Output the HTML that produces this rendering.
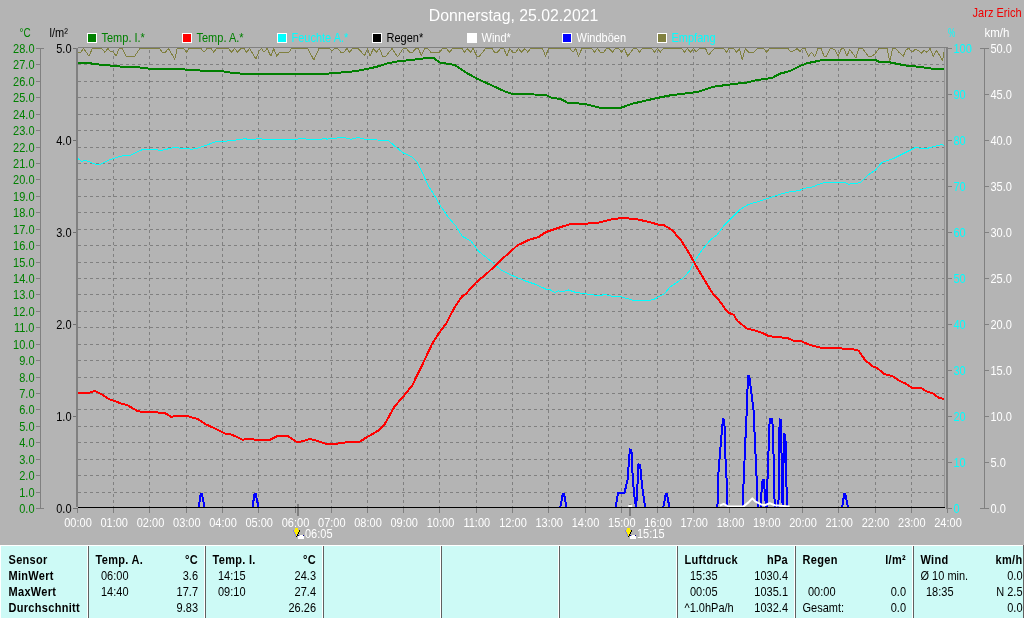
<!DOCTYPE html>
<html lang="de"><head><meta charset="utf-8"><title>Donnerstag, 25.02.2021</title>
<style>
html,body{margin:0;padding:0;background:#b4b4b4;}
body{width:1024px;height:618px;overflow:hidden;position:relative;font-family:"Liberation Sans",Arial,sans-serif;}
svg{position:absolute;left:0;top:0;display:block}
svg text{font-family:"Liberation Sans",Arial,sans-serif;font-size:11px;}
.b{font-weight:bold;letter-spacing:0.35px}
.g{fill:#008000}.c{fill:#00ffff}.w{fill:#ffffff}.k{fill:#000000}.r{fill:#f00000}
.e{text-anchor:end}.m{text-anchor:middle}
</style></head><body>
<svg width="1024" height="618" viewBox="0 0 1024 618">
<rect x="0" y="0" width="1024" height="618" fill="#b4b4b4"/>
<g stroke="#808080" stroke-width="1" stroke-dasharray="3 3" shape-rendering="crispEdges" fill="none">
<line x1="78" y1="492.5" x2="944" y2="492.5"/>
<line x1="78" y1="475.5" x2="944" y2="475.5"/>
<line x1="78" y1="459.5" x2="944" y2="459.5"/>
<line x1="78" y1="442.5" x2="944" y2="442.5"/>
<line x1="78" y1="426.5" x2="944" y2="426.5"/>
<line x1="78" y1="409.5" x2="944" y2="409.5"/>
<line x1="78" y1="393.5" x2="944" y2="393.5"/>
<line x1="78" y1="377.5" x2="944" y2="377.5"/>
<line x1="78" y1="360.5" x2="944" y2="360.5"/>
<line x1="78" y1="344.5" x2="944" y2="344.5"/>
<line x1="78" y1="327.5" x2="944" y2="327.5"/>
<line x1="78" y1="311.5" x2="944" y2="311.5"/>
<line x1="78" y1="294.5" x2="944" y2="294.5"/>
<line x1="78" y1="278.5" x2="944" y2="278.5"/>
<line x1="78" y1="262.5" x2="944" y2="262.5"/>
<line x1="78" y1="245.5" x2="944" y2="245.5"/>
<line x1="78" y1="229.5" x2="944" y2="229.5"/>
<line x1="78" y1="212.5" x2="944" y2="212.5"/>
<line x1="78" y1="196.5" x2="944" y2="196.5"/>
<line x1="78" y1="179.5" x2="944" y2="179.5"/>
<line x1="78" y1="163.5" x2="944" y2="163.5"/>
<line x1="78" y1="147.5" x2="944" y2="147.5"/>
<line x1="78" y1="130.5" x2="944" y2="130.5"/>
<line x1="78" y1="114.5" x2="944" y2="114.5"/>
<line x1="78" y1="97.5" x2="944" y2="97.5"/>
<line x1="78" y1="81.5" x2="944" y2="81.5"/>
<line x1="78" y1="64.5" x2="944" y2="64.5"/>
<line x1="113.5" y1="50" x2="113.5" y2="507"/>
<line x1="113.5" y1="508" x2="113.5" y2="513" stroke-dasharray="none"/>
<line x1="149.5" y1="50" x2="149.5" y2="507"/>
<line x1="149.5" y1="508" x2="149.5" y2="513" stroke-dasharray="none"/>
<line x1="186.5" y1="50" x2="186.5" y2="507"/>
<line x1="186.5" y1="508" x2="186.5" y2="513" stroke-dasharray="none"/>
<line x1="222.5" y1="50" x2="222.5" y2="507"/>
<line x1="222.5" y1="508" x2="222.5" y2="513" stroke-dasharray="none"/>
<line x1="258.5" y1="50" x2="258.5" y2="507"/>
<line x1="258.5" y1="508" x2="258.5" y2="513" stroke-dasharray="none"/>
<line x1="295.5" y1="50" x2="295.5" y2="507"/>
<line x1="295.5" y1="508" x2="295.5" y2="513" stroke-dasharray="none"/>
<line x1="331.5" y1="50" x2="331.5" y2="507"/>
<line x1="331.5" y1="508" x2="331.5" y2="513" stroke-dasharray="none"/>
<line x1="367.5" y1="50" x2="367.5" y2="507"/>
<line x1="367.5" y1="508" x2="367.5" y2="513" stroke-dasharray="none"/>
<line x1="403.5" y1="50" x2="403.5" y2="507"/>
<line x1="403.5" y1="508" x2="403.5" y2="513" stroke-dasharray="none"/>
<line x1="439.5" y1="50" x2="439.5" y2="507"/>
<line x1="439.5" y1="508" x2="439.5" y2="513" stroke-dasharray="none"/>
<line x1="476.5" y1="50" x2="476.5" y2="507"/>
<line x1="476.5" y1="508" x2="476.5" y2="513" stroke-dasharray="none"/>
<line x1="512.5" y1="50" x2="512.5" y2="507"/>
<line x1="512.5" y1="508" x2="512.5" y2="513" stroke-dasharray="none"/>
<line x1="548.5" y1="50" x2="548.5" y2="507"/>
<line x1="548.5" y1="508" x2="548.5" y2="513" stroke-dasharray="none"/>
<line x1="585.5" y1="50" x2="585.5" y2="507"/>
<line x1="585.5" y1="508" x2="585.5" y2="513" stroke-dasharray="none"/>
<line x1="621.5" y1="50" x2="621.5" y2="507"/>
<line x1="621.5" y1="508" x2="621.5" y2="513" stroke-dasharray="none"/>
<line x1="657.5" y1="50" x2="657.5" y2="507"/>
<line x1="657.5" y1="508" x2="657.5" y2="513" stroke-dasharray="none"/>
<line x1="693.5" y1="50" x2="693.5" y2="507"/>
<line x1="693.5" y1="508" x2="693.5" y2="513" stroke-dasharray="none"/>
<line x1="729.5" y1="50" x2="729.5" y2="507"/>
<line x1="729.5" y1="508" x2="729.5" y2="513" stroke-dasharray="none"/>
<line x1="766.5" y1="50" x2="766.5" y2="507"/>
<line x1="766.5" y1="508" x2="766.5" y2="513" stroke-dasharray="none"/>
<line x1="802.5" y1="50" x2="802.5" y2="507"/>
<line x1="802.5" y1="508" x2="802.5" y2="513" stroke-dasharray="none"/>
<line x1="838.5" y1="50" x2="838.5" y2="507"/>
<line x1="838.5" y1="508" x2="838.5" y2="513" stroke-dasharray="none"/>
<line x1="875.5" y1="50" x2="875.5" y2="507"/>
<line x1="875.5" y1="508" x2="875.5" y2="513" stroke-dasharray="none"/>
<line x1="911.5" y1="50" x2="911.5" y2="507"/>
<line x1="911.5" y1="508" x2="911.5" y2="513" stroke-dasharray="none"/>
</g>
<g shape-rendering="crispEdges">
<rect x="297" y="504" width="2" height="12" fill="#808080"/>
<rect x="629" y="504" width="2" height="12" fill="#808080"/>
</g>
<polyline points="77.9,52.2 80.4,52.8 83.5,48.5 89.1,56.2 92.2,48.5 101.6,48.5 104.8,52.2 107.9,48.5 110.4,51.5 113.5,52.2 116.0,56.2 119.1,48.5 122.2,48.5 126.0,56.2 134.8,56.2 139.8,48.5 159.8,48.5 162.2,52.2 165.4,52.2 168.5,48.5 174.8,59.4 177.2,48.5 183.5,48.5 186.6,52.2 189.1,48.5 201.0,48.5 204.0,52.2 207.1,48.5 210.9,48.5 213.8,52.2 216.5,48.5 228.4,48.5 231.5,52.2 234.6,48.5 237.5,52.2 240.9,48.5 244.0,48.5 246.5,52.2 249.6,48.5 255.9,59.0 259.0,51.2 261.5,48.5 264.0,52.2 267.1,48.5 270.9,56.2 273.8,48.5 276.8,56.2 279.6,52.2 289.0,52.2 291.5,48.5 307.8,48.5 313.8,60.0 319.0,48.5 329.0,48.5 332.0,50.6 334.5,48.5 337.6,48.5 340.8,52.2 343.9,52.2 347.0,48.5 349.5,52.2 352.6,48.5 358.2,48.5 364.5,55.6 367.6,48.5 370.1,56.2 373.2,48.5 376.4,52.2 379.5,48.5 382.6,56.2 385.8,56.2 392.0,48.5 397.6,56.9 403.2,48.5 406.4,48.5 409.5,52.2 412.6,52.2 415.8,48.5 418.2,48.5 421.4,55.6 424.5,48.5 427.6,48.5 430.8,52.2 439.5,52.2 442.6,48.5 446.4,48.5 449.5,52.2 452.6,48.5 459.5,48.5 461.9,48.5 464.4,52.2 467.2,48.5 470.6,52.2 473.1,48.5 476.9,56.2 479.4,56.2 485.6,48.5 491.9,48.5 494.4,52.2 497.5,52.2 500.6,48.5 503.8,48.5 506.9,56.2 509.8,48.5 512.5,52.2 515.6,52.2 518.5,48.5 521.5,52.2 524.8,48.5 527.8,52.2 530.6,48.5 542.5,48.5 545.6,56.2 548.5,48.5 570.0,48.5 573.1,52.2 575.6,48.5 578.5,56.2 581.9,48.5 587.5,48.5 591.8,48.5 594.5,52.2 597.4,48.5 600.2,52.2 603.6,52.2 606.5,48.5 609.2,48.5 612.4,52.2 615.2,48.5 618.6,48.5 621.5,52.2 624.2,48.5 627.8,56.2 633.6,48.5 636.8,48.5 639.5,52.2 642.4,48.5 651.8,48.5 654.5,52.2 657.4,48.5 660.2,52.2 663.2,48.5 681.8,48.5 684.5,52.2 687.4,48.5 690.5,52.2 693.6,48.5 696.1,52.2 699.2,48.5 705.5,48.5 708.6,55.0 714.2,48.5 723.5,48.5 726.6,52.2 729.1,48.5 733.5,48.5 736.6,52.2 739.5,48.5 742.2,59.4 745.4,48.5 748.5,52.2 754.1,52.2 757.2,48.5 763.5,48.5 766.6,52.2 769.5,48.5 787.9,48.5 791.0,52.2 794.1,50.6 797.2,48.5 800.0,51.5 802.2,48.5 805.0,48.5 808.5,56.2 811.6,52.2 814.8,56.9 817.9,48.5 821.0,48.5 824.1,56.2 826.6,56.2 830.4,48.5 832.0,48.5 834.5,49.4 838.2,56.2 841.4,48.5 843.9,48.5 847.0,56.2 849.5,49.4 852.6,53.1 855.8,58.1 858.9,48.5 862.6,48.5 868.2,56.2 872.0,56.2 875.1,53.8 878.9,48.5 883.9,48.5 887.0,48.5 889.8,61.2 892.6,48.5 895.8,48.5 898.9,52.2 903.2,56.2 906.4,49.4 908.9,48.5 912.0,52.2 915.1,49.4 918.2,50.6 921.4,53.1 923.9,50.6 927.0,52.2 930.1,48.5 933.2,56.2 936.4,50.6 940.1,56.2 942.6,60.6 944.5,48.5" fill="none" stroke="#808040" stroke-width="1" stroke-linejoin="round" shape-rendering="crispEdges"/>
<polyline points="77.5,63.0 88.8,63.0 95.0,64.2 107.5,65.2 120.0,66.5 140.0,67.5 150.0,68.8 180.0,69.2 200.0,70.5 222.5,71.2 230.0,72.5 242.5,73.8 326.0,73.8 341.0,72.5 356.0,71.2 376.0,67.0 386.0,63.8 398.5,61.2 411.0,60.0 423.5,58.5 433.5,58.0 439.8,62.5 454.8,65.0 466.0,72.5 476.0,78.2 491.0,85.0 506.0,92.0 511.0,93.5 546.0,95.0 551.0,97.5 561.0,99.2 567.2,102.5 582.0,103.8 587.0,104.5 593.2,106.2 600.8,107.8 620.8,107.8 632.0,103.8 657.0,98.0 669.5,95.5 698.2,91.8 713.2,86.8 732.0,84.2 747.0,82.5 757.0,80.0 772.0,78.0 779.5,73.8 789.5,71.2 799.5,66.2 807.0,63.2 817.0,61.2 822.0,60.0 838.0,60.0 875.5,60.0 879.2,62.0 890.5,62.5 905.5,65.5 920.5,67.0 933.0,68.8 944.5,69.0" fill="none" stroke="#008000" stroke-width="2" stroke-linejoin="round" shape-rendering="crispEdges"/>
<polyline points="77.5,158.0 81.2,161.2 86.2,160.5 92.5,163.2 98.8,165.0 103.8,162.5 110.0,159.5 122.5,155.8 131.2,155.0 142.5,149.5 156.2,149.2 160.0,150.8 173.8,147.5 192.5,149.2 200.0,147.5 215.0,142.0 230.0,140.8 245.0,138.8 250.0,139.5 258.8,138.8 270.0,139.5 295.0,140.0 300.0,138.5 317.5,140.0 326.0,138.2 326.0,139.2 336.0,138.2 342.2,137.0 351.0,139.2 358.5,137.5 366.0,139.5 388.5,140.5 394.8,146.2 403.5,153.0 412.2,157.0 417.2,162.5 423.5,175.0 428.5,186.2 433.5,193.8 439.8,205.0 448.5,217.5 456.0,226.2 462.2,236.2 471.0,241.2 478.5,251.2 491.0,261.2 501.0,270.0 512.2,275.5 526.0,281.2 536.0,284.5 546.0,289.2 549.8,289.5 554.8,292.5 558.5,290.8 561.0,292.0 568.5,290.0 576.0,292.5 582.0,293.2 599.5,295.8 604.5,294.5 612.0,296.2 619.5,296.2 632.0,300.0 648.2,301.0 654.5,299.0 664.5,293.8 669.5,287.5 682.0,278.8 689.5,271.2 694.5,261.2 702.0,250.0 710.8,239.5 717.0,235.0 724.5,225.0 732.0,217.5 739.5,210.0 748.2,204.5 757.0,202.0 767.0,198.8 782.0,193.8 789.5,191.8 799.5,190.5 804.5,188.2 812.0,187.0 822.0,183.2 829.5,182.2 838.0,182.2 845.5,182.5 848.0,184.2 853.0,183.8 860.5,182.5 868.0,175.0 875.5,170.0 881.8,162.5 893.0,158.8 905.5,152.5 915.5,147.5 925.5,148.8 933.0,146.8 941.8,144.5 943.8,145.5" fill="none" stroke="#00ffff" stroke-width="1" stroke-linejoin="round" shape-rendering="crispEdges"/>
<polyline points="77.5,393.0 88.8,392.8 95.0,391.0 102.5,394.8 108.8,399.0 116.2,401.5 120.0,403.2 127.5,405.2 137.5,411.0 142.5,412.0 155.0,411.5 160.0,413.2 165.0,413.2 171.2,416.8 177.5,415.8 186.2,415.8 197.5,419.0 206.2,424.5 215.0,428.5 225.0,433.5 230.0,434.0 237.5,437.2 242.5,439.8 250.0,438.5 255.0,439.8 270.0,439.8 277.5,436.0 287.5,435.8 296.2,441.5 301.2,441.5 310.0,439.0 317.5,441.0 326.0,443.8 338.5,443.5 348.5,442.0 358.5,442.5 367.2,437.0 378.5,430.5 384.8,423.8 394.8,406.2 403.5,396.2 412.2,385.5 422.2,365.0 432.2,343.8 438.5,333.8 446.0,323.8 454.8,307.0 462.2,296.2 466.0,293.8 476.0,282.5 488.5,272.0 501.0,260.0 511.0,251.2 517.2,245.5 528.5,240.0 538.5,237.0 546.0,232.0 561.0,227.0 571.0,224.0 582.0,224.0 599.5,222.5 612.0,219.2 622.0,218.0 635.8,219.0 647.0,221.5 658.2,224.5 664.5,225.5 672.0,230.0 680.8,240.0 689.5,253.8 697.0,267.5 704.5,280.0 712.0,292.5 718.8,300.0 727.5,312.0 733.8,315.0 737.5,321.2 747.5,328.8 753.8,330.0 762.5,333.0 768.8,336.2 787.5,338.0 793.8,340.8 801.2,341.2 810.0,345.0 820.0,347.5 852.5,349.0 858.8,350.8 865.0,360.0 872.5,366.2 877.5,368.2 883.8,373.8 892.5,376.2 900.0,381.2 906.2,383.8 911.2,387.5 921.2,388.0 926.2,391.2 933.8,393.8 938.8,398.0 943.8,398.8" fill="none" stroke="#ff0000" stroke-width="2" stroke-linejoin="round" shape-rendering="crispEdges"/>
<polyline points="198.8,507.0 200.8,493.5 201.8,493.5 204.5,507.0" fill="none" stroke="#0000ff" stroke-width="2" stroke-linejoin="round" shape-rendering="crispEdges"/>
<polyline points="252.5,507.0 254.6,493.5 255.6,493.5 258.5,507.0" fill="none" stroke="#0000ff" stroke-width="2" stroke-linejoin="round" shape-rendering="crispEdges"/>
<polyline points="560.3,507.0 562.9,493.5 564.0,493.5 566.4,507.0" fill="none" stroke="#0000ff" stroke-width="2" stroke-linejoin="round" shape-rendering="crispEdges"/>
<polyline points="615.7,507.0 618.0,493.3 624.5,493.0 627.6,479.3 629.9,449.4 631.4,449.8 632.9,480.9 634.4,496.0 636.0,507.0 637.0,494.5 638.5,464.4 640.1,464.9 642.0,485.4 645.1,507.0" fill="none" stroke="#0000ff" stroke-width="2" stroke-linejoin="round" shape-rendering="crispEdges"/>
<polyline points="663.3,507.0 665.9,493.5 666.8,493.5 669.4,507.0" fill="none" stroke="#0000ff" stroke-width="2" stroke-linejoin="round" shape-rendering="crispEdges"/>
<polyline points="717.4,507.0 718.6,469.6 721.1,439.7 722.9,419.3 724.4,419.8 724.9,447.0 726.6,479.5 727.4,507.0" fill="none" stroke="#0000ff" stroke-width="2" stroke-linejoin="round" shape-rendering="crispEdges"/>
<polyline points="742.8,507.0 743.5,484.5 745.3,442.0 746.8,409.8 748.0,375.4 749.3,376.2 751.0,389.9 753.5,409.8 755.2,447.0 756.7,479.5 757.7,507.0" fill="none" stroke="#0000ff" stroke-width="2" stroke-linejoin="round" shape-rendering="crispEdges"/>
<polyline points="760.5,507.0 761.7,489.5 762.7,479.5 764.0,479.5 764.7,492.0 766.0,507.0 766.7,507.0 767.7,472.0 768.7,447.0 769.7,419.3 772.2,418.8 773.2,434.7 773.7,464.6 774.7,507.0" fill="none" stroke="#0000ff" stroke-width="2" stroke-linejoin="round" shape-rendering="crispEdges"/>
<polyline points="778.4,507.0 779.1,464.6 779.6,419.3 781.1,419.8 781.6,459.6 782.6,507.0 783.6,459.6 784.1,434.2 785.4,434.7 786.1,472.0 787.1,507.0" fill="none" stroke="#0000ff" stroke-width="2" stroke-linejoin="round" shape-rendering="crispEdges"/>
<polyline points="842.2,507.0 844.3,493.5 845.3,493.5 848.0,507.0" fill="none" stroke="#0000ff" stroke-width="2" stroke-linejoin="round" shape-rendering="crispEdges"/>
<polyline points="628.3,506.0 632.2,506.0" fill="none" stroke="#ffffff" stroke-width="2" stroke-linejoin="round" />
<polyline points="719.9,505.7 723.6,503.9 727.4,506.2 737.3,506.4 743.5,506.4 748.5,502.4 752.3,498.4 755.2,501.4 761.0,504.4 764.7,505.2 769.7,503.2 774.7,505.2 789.6,506.4" fill="none" stroke="#ffffff" stroke-width="2" stroke-linejoin="round" />
<g shape-rendering="crispEdges">
<rect x="76" y="48" width="2" height="459" fill="#808080"/>
<rect x="78" y="47" width="870" height="1" fill="#808080"/>
<rect x="944" y="48" width="1" height="459" fill="#969696"/>
<rect x="946" y="47" width="2" height="462" fill="#808080"/>
<rect x="78" y="507" width="867" height="1" fill="#000"/>
<rect x="77" y="509" width="1" height="4" fill="#808080"/>
<rect x="947" y="508" width="1" height="5" fill="#808080"/>
<rect x="40" y="48" width="1" height="461" fill="#808080"/>
<rect x="36" y="508" width="8" height="1" fill="#808080"/>
<rect x="36" y="492" width="4" height="1" fill="#808080"/>
<rect x="36" y="475" width="4" height="1" fill="#808080"/>
<rect x="36" y="459" width="4" height="1" fill="#808080"/>
<rect x="36" y="442" width="4" height="1" fill="#808080"/>
<rect x="36" y="426" width="4" height="1" fill="#808080"/>
<rect x="36" y="409" width="4" height="1" fill="#808080"/>
<rect x="36" y="393" width="4" height="1" fill="#808080"/>
<rect x="36" y="377" width="4" height="1" fill="#808080"/>
<rect x="36" y="360" width="4" height="1" fill="#808080"/>
<rect x="36" y="344" width="4" height="1" fill="#808080"/>
<rect x="36" y="327" width="4" height="1" fill="#808080"/>
<rect x="36" y="311" width="4" height="1" fill="#808080"/>
<rect x="36" y="294" width="4" height="1" fill="#808080"/>
<rect x="36" y="278" width="4" height="1" fill="#808080"/>
<rect x="36" y="262" width="4" height="1" fill="#808080"/>
<rect x="36" y="245" width="4" height="1" fill="#808080"/>
<rect x="36" y="229" width="4" height="1" fill="#808080"/>
<rect x="36" y="212" width="4" height="1" fill="#808080"/>
<rect x="36" y="196" width="4" height="1" fill="#808080"/>
<rect x="36" y="179" width="4" height="1" fill="#808080"/>
<rect x="36" y="163" width="4" height="1" fill="#808080"/>
<rect x="36" y="147" width="4" height="1" fill="#808080"/>
<rect x="36" y="130" width="4" height="1" fill="#808080"/>
<rect x="36" y="114" width="4" height="1" fill="#808080"/>
<rect x="36" y="97" width="4" height="1" fill="#808080"/>
<rect x="36" y="81" width="4" height="1" fill="#808080"/>
<rect x="36" y="64" width="4" height="1" fill="#808080"/>
<rect x="36" y="48" width="8" height="1" fill="#808080"/>
<rect x="73" y="508" width="5" height="1" fill="#707070"/>
<rect x="73" y="416" width="3" height="1" fill="#707070"/>
<rect x="73" y="324" width="3" height="1" fill="#707070"/>
<rect x="73" y="232" width="3" height="1" fill="#707070"/>
<rect x="73" y="140" width="3" height="1" fill="#707070"/>
<rect x="73" y="48" width="3" height="1" fill="#707070"/>
<rect x="948" y="508" width="4" height="1" fill="#808080"/>
<rect x="948" y="462" width="4" height="1" fill="#808080"/>
<rect x="948" y="416" width="4" height="1" fill="#808080"/>
<rect x="948" y="370" width="4" height="1" fill="#808080"/>
<rect x="948" y="324" width="4" height="1" fill="#808080"/>
<rect x="948" y="278" width="4" height="1" fill="#808080"/>
<rect x="948" y="232" width="4" height="1" fill="#808080"/>
<rect x="948" y="186" width="4" height="1" fill="#808080"/>
<rect x="948" y="140" width="4" height="1" fill="#808080"/>
<rect x="948" y="94" width="4" height="1" fill="#808080"/>
<rect x="948" y="48" width="4" height="1" fill="#808080"/>
<rect x="984" y="48" width="1" height="461" fill="#808080"/>
<rect x="980" y="508" width="9" height="1" fill="#808080"/>
<rect x="985" y="462" width="4" height="1" fill="#808080"/>
<rect x="985" y="416" width="4" height="1" fill="#808080"/>
<rect x="985" y="370" width="4" height="1" fill="#808080"/>
<rect x="985" y="324" width="4" height="1" fill="#808080"/>
<rect x="985" y="278" width="4" height="1" fill="#808080"/>
<rect x="985" y="232" width="4" height="1" fill="#808080"/>
<rect x="985" y="186" width="4" height="1" fill="#808080"/>
<rect x="985" y="140" width="4" height="1" fill="#808080"/>
<rect x="985" y="94" width="4" height="1" fill="#808080"/>
<rect x="980" y="48" width="9" height="1" fill="#808080"/>
</g>
<text class="g e" transform="translate(34.5,513.0) scale(0.887,1)" style="font-size:12.4px">0.0</text>
<text class="g e" transform="translate(34.5,497.0) scale(0.887,1)" style="font-size:12.4px">1.0</text>
<text class="g e" transform="translate(34.5,480.0) scale(0.887,1)" style="font-size:12.4px">2.0</text>
<text class="g e" transform="translate(34.5,464.0) scale(0.887,1)" style="font-size:12.4px">3.0</text>
<text class="g e" transform="translate(34.5,447.0) scale(0.887,1)" style="font-size:12.4px">4.0</text>
<text class="g e" transform="translate(34.5,431.0) scale(0.887,1)" style="font-size:12.4px">5.0</text>
<text class="g e" transform="translate(34.5,414.0) scale(0.887,1)" style="font-size:12.4px">6.0</text>
<text class="g e" transform="translate(34.5,398.0) scale(0.887,1)" style="font-size:12.4px">7.0</text>
<text class="g e" transform="translate(34.5,382.0) scale(0.887,1)" style="font-size:12.4px">8.0</text>
<text class="g e" transform="translate(34.5,365.0) scale(0.887,1)" style="font-size:12.4px">9.0</text>
<text class="g e" transform="translate(34.5,349.0) scale(0.887,1)" style="font-size:12.4px">10.0</text>
<text class="g e" transform="translate(34.5,332.0) scale(0.887,1)" style="font-size:12.4px">11.0</text>
<text class="g e" transform="translate(34.5,316.0) scale(0.887,1)" style="font-size:12.4px">12.0</text>
<text class="g e" transform="translate(34.5,299.0) scale(0.887,1)" style="font-size:12.4px">13.0</text>
<text class="g e" transform="translate(34.5,283.0) scale(0.887,1)" style="font-size:12.4px">14.0</text>
<text class="g e" transform="translate(34.5,267.0) scale(0.887,1)" style="font-size:12.4px">15.0</text>
<text class="g e" transform="translate(34.5,250.0) scale(0.887,1)" style="font-size:12.4px">16.0</text>
<text class="g e" transform="translate(34.5,234.0) scale(0.887,1)" style="font-size:12.4px">17.0</text>
<text class="g e" transform="translate(34.5,217.0) scale(0.887,1)" style="font-size:12.4px">18.0</text>
<text class="g e" transform="translate(34.5,201.0) scale(0.887,1)" style="font-size:12.4px">19.0</text>
<text class="g e" transform="translate(34.5,184.0) scale(0.887,1)" style="font-size:12.4px">20.0</text>
<text class="g e" transform="translate(34.5,168.0) scale(0.887,1)" style="font-size:12.4px">21.0</text>
<text class="g e" transform="translate(34.5,152.0) scale(0.887,1)" style="font-size:12.4px">22.0</text>
<text class="g e" transform="translate(34.5,135.0) scale(0.887,1)" style="font-size:12.4px">23.0</text>
<text class="g e" transform="translate(34.5,119.0) scale(0.887,1)" style="font-size:12.4px">24.0</text>
<text class="g e" transform="translate(34.5,102.0) scale(0.887,1)" style="font-size:12.4px">25.0</text>
<text class="g e" transform="translate(34.5,86.0) scale(0.887,1)" style="font-size:12.4px">26.0</text>
<text class="g e" transform="translate(34.5,69.0) scale(0.887,1)" style="font-size:12.4px">27.0</text>
<text class="g e" transform="translate(34.5,53.0) scale(0.887,1)" style="font-size:12.4px">28.0</text>
<text class="k e" transform="translate(71.5,513.0) scale(0.887,1)" style="font-size:12.4px">0.0</text>
<text class="k e" transform="translate(71.5,421.0) scale(0.887,1)" style="font-size:12.4px">1.0</text>
<text class="k e" transform="translate(71.5,329.0) scale(0.887,1)" style="font-size:12.4px">2.0</text>
<text class="k e" transform="translate(71.5,237.0) scale(0.887,1)" style="font-size:12.4px">3.0</text>
<text class="k e" transform="translate(71.5,145.0) scale(0.887,1)" style="font-size:12.4px">4.0</text>
<text class="k e" transform="translate(71.5,53.0) scale(0.887,1)" style="font-size:12.4px">5.0</text>
<text class="c" transform="translate(953.5,513.0) scale(0.887,1)" style="font-size:12.4px">0</text>
<text class="w" transform="translate(990.5,513.0) scale(0.887,1)" style="font-size:12.4px">0.0</text>
<text class="c" transform="translate(953.5,467.0) scale(0.887,1)" style="font-size:12.4px">10</text>
<text class="w" transform="translate(990.5,467.0) scale(0.887,1)" style="font-size:12.4px">5.0</text>
<text class="c" transform="translate(953.5,421.0) scale(0.887,1)" style="font-size:12.4px">20</text>
<text class="w" transform="translate(990.5,421.0) scale(0.887,1)" style="font-size:12.4px">10.0</text>
<text class="c" transform="translate(953.5,375.0) scale(0.887,1)" style="font-size:12.4px">30</text>
<text class="w" transform="translate(990.5,375.0) scale(0.887,1)" style="font-size:12.4px">15.0</text>
<text class="c" transform="translate(953.5,329.0) scale(0.887,1)" style="font-size:12.4px">40</text>
<text class="w" transform="translate(990.5,329.0) scale(0.887,1)" style="font-size:12.4px">20.0</text>
<text class="c" transform="translate(953.5,283.0) scale(0.887,1)" style="font-size:12.4px">50</text>
<text class="w" transform="translate(990.5,283.0) scale(0.887,1)" style="font-size:12.4px">25.0</text>
<text class="c" transform="translate(953.5,237.0) scale(0.887,1)" style="font-size:12.4px">60</text>
<text class="w" transform="translate(990.5,237.0) scale(0.887,1)" style="font-size:12.4px">30.0</text>
<text class="c" transform="translate(953.5,191.0) scale(0.887,1)" style="font-size:12.4px">70</text>
<text class="w" transform="translate(990.5,191.0) scale(0.887,1)" style="font-size:12.4px">35.0</text>
<text class="c" transform="translate(953.5,145.0) scale(0.887,1)" style="font-size:12.4px">80</text>
<text class="w" transform="translate(990.5,145.0) scale(0.887,1)" style="font-size:12.4px">40.0</text>
<text class="c" transform="translate(953.5,99.0) scale(0.887,1)" style="font-size:12.4px">90</text>
<text class="w" transform="translate(990.5,99.0) scale(0.887,1)" style="font-size:12.4px">45.0</text>
<text class="c" transform="translate(953.5,53.0) scale(0.887,1)" style="font-size:12.4px">100</text>
<text class="w" transform="translate(990.5,53.0) scale(0.887,1)" style="font-size:12.4px">50.0</text>
<text class="g" transform="translate(19.5,37.0) scale(0.800,1)" style="font-size:12.4px">°C</text>
<text class="k" transform="translate(49.5,37.0) scale(0.887,1)" style="font-size:12.4px">l/m²</text>
<text class="c" transform="translate(948.0,37.0) scale(0.660,1)" style="font-size:12.4px">%</text>
<text class="w" transform="translate(984.5,37.0) scale(0.930,1)" style="font-size:12.4px">km/h</text>
<text class="r e" transform="translate(1021.5,17.0) scale(0.887,1)" style="font-size:12.4px">Jarz Erich</text>
<text class="w m" transform="translate(513.5,21.0) scale(1.000,1)" style="font-size:15.8px">Donnerstag, 25.02.2021</text>
<text class="w m" transform="translate(78.0,527.0) scale(0.887,1)" style="font-size:12.4px">00:00</text>
<text class="w m" transform="translate(114.2,527.0) scale(0.887,1)" style="font-size:12.4px">01:00</text>
<text class="w m" transform="translate(150.5,527.0) scale(0.887,1)" style="font-size:12.4px">02:00</text>
<text class="w m" transform="translate(186.8,527.0) scale(0.887,1)" style="font-size:12.4px">03:00</text>
<text class="w m" transform="translate(223.0,527.0) scale(0.887,1)" style="font-size:12.4px">04:00</text>
<text class="w m" transform="translate(259.2,527.0) scale(0.887,1)" style="font-size:12.4px">05:00</text>
<text class="w m" transform="translate(295.5,527.0) scale(0.887,1)" style="font-size:12.4px">06:00</text>
<text class="w m" transform="translate(331.8,527.0) scale(0.887,1)" style="font-size:12.4px">07:00</text>
<text class="w m" transform="translate(368.0,527.0) scale(0.887,1)" style="font-size:12.4px">08:00</text>
<text class="w m" transform="translate(404.2,527.0) scale(0.887,1)" style="font-size:12.4px">09:00</text>
<text class="w m" transform="translate(440.5,527.0) scale(0.887,1)" style="font-size:12.4px">10:00</text>
<text class="w m" transform="translate(476.8,527.0) scale(0.887,1)" style="font-size:12.4px">11:00</text>
<text class="w m" transform="translate(513.0,527.0) scale(0.887,1)" style="font-size:12.4px">12:00</text>
<text class="w m" transform="translate(549.2,527.0) scale(0.887,1)" style="font-size:12.4px">13:00</text>
<text class="w m" transform="translate(585.5,527.0) scale(0.887,1)" style="font-size:12.4px">14:00</text>
<text class="w m" transform="translate(621.8,527.0) scale(0.887,1)" style="font-size:12.4px">15:00</text>
<text class="w m" transform="translate(658.0,527.0) scale(0.887,1)" style="font-size:12.4px">16:00</text>
<text class="w m" transform="translate(694.2,527.0) scale(0.887,1)" style="font-size:12.4px">17:00</text>
<text class="w m" transform="translate(730.5,527.0) scale(0.887,1)" style="font-size:12.4px">18:00</text>
<text class="w m" transform="translate(766.8,527.0) scale(0.887,1)" style="font-size:12.4px">19:00</text>
<text class="w m" transform="translate(803.0,527.0) scale(0.887,1)" style="font-size:12.4px">20:00</text>
<text class="w m" transform="translate(839.2,527.0) scale(0.887,1)" style="font-size:12.4px">21:00</text>
<text class="w m" transform="translate(875.5,527.0) scale(0.887,1)" style="font-size:12.4px">22:00</text>
<text class="w m" transform="translate(911.8,527.0) scale(0.887,1)" style="font-size:12.4px">23:00</text>
<text class="w m" transform="translate(948.0,527.0) scale(0.887,1)" style="font-size:12.4px">24:00</text>
<text class="w" transform="translate(305.0,538.0) scale(0.887,1)" style="font-size:12.4px">06:05</text>
<text class="w" transform="translate(637.0,538.0) scale(0.887,1)" style="font-size:12.4px">15:15</text>
<g transform="translate(293,528)" shape-rendering="crispEdges">
<rect x="2" y="0" width="3" height="2" fill="#ffee00"/>
<rect x="1" y="2" width="5" height="2" fill="#ffee00"/>
<rect x="2" y="4" width="3" height="2" fill="#ffee00"/>
<rect x="3" y="6" width="1" height="2" fill="#ffee00"/>
<rect x="6" y="2" width="1" height="2" fill="#000"/>
<rect x="5" y="4" width="1" height="2" fill="#000"/>
<rect x="4" y="6" width="1" height="2" fill="#000"/>
<rect x="3" y="8" width="1" height="1" fill="#000"/>
<rect x="0" y="2" width="1" height="2" fill="#8080e0"/>
<rect x="1" y="4" width="1" height="2" fill="#8080e0"/>
<rect x="2" y="6" width="1" height="2" fill="#8080e0"/>
<rect x="5" y="7" width="1" height="1" fill="#000090"/>
<rect x="10" y="7" width="1" height="1" fill="#000090"/>
<rect x="7" y="7" width="3" height="1" fill="#fff"/>
<rect x="5" y="8" width="6" height="3" fill="#fff"/>
</g>
<g transform="translate(625,528)" shape-rendering="crispEdges">
<rect x="2" y="0" width="3" height="2" fill="#ffee00"/>
<rect x="1" y="2" width="5" height="2" fill="#ffee00"/>
<rect x="2" y="4" width="3" height="2" fill="#ffee00"/>
<rect x="3" y="6" width="1" height="2" fill="#ffee00"/>
<rect x="6" y="2" width="1" height="2" fill="#000"/>
<rect x="5" y="4" width="1" height="2" fill="#000"/>
<rect x="4" y="6" width="1" height="2" fill="#000"/>
<rect x="3" y="8" width="1" height="1" fill="#000"/>
<rect x="0" y="2" width="1" height="2" fill="#8080e0"/>
<rect x="1" y="4" width="1" height="2" fill="#8080e0"/>
<rect x="2" y="6" width="1" height="2" fill="#8080e0"/>
<rect x="5" y="7" width="1" height="1" fill="#000090"/>
<rect x="10" y="7" width="1" height="1" fill="#000090"/>
<rect x="7" y="7" width="3" height="1" fill="#fff"/>
<rect x="5" y="8" width="6" height="3" fill="#fff"/>
</g>
<rect x="87" y="33" width="10" height="10" fill="#fff" shape-rendering="crispEdges"/>
<rect x="88" y="34" width="8" height="8" fill="#008000" shape-rendering="crispEdges"/>
<text class="g" transform="translate(101.5,42.0) scale(0.887,1)" style="font-size:12.4px">Temp. I.*</text>
<rect x="182" y="33" width="10" height="10" fill="#fff" shape-rendering="crispEdges"/>
<rect x="183" y="34" width="8" height="8" fill="#ff0000" shape-rendering="crispEdges"/>
<text class="g" transform="translate(196.5,42.0) scale(0.887,1)" style="font-size:12.4px">Temp. A.*</text>
<rect x="277" y="33" width="10" height="10" fill="#fff" shape-rendering="crispEdges"/>
<rect x="278" y="34" width="8" height="8" fill="#00ffff" shape-rendering="crispEdges"/>
<text class="c" transform="translate(291.5,42.0) scale(0.887,1)" style="font-size:12.4px">Feuchte A.*</text>
<rect x="372" y="33" width="10" height="10" fill="#fff" shape-rendering="crispEdges"/>
<rect x="373" y="34" width="8" height="8" fill="#000000" shape-rendering="crispEdges"/>
<text class="k" transform="translate(386.5,42.0) scale(0.887,1)" style="font-size:12.4px">Regen*</text>
<rect x="467" y="33" width="10" height="10" fill="#fff" shape-rendering="crispEdges"/>
<rect x="468" y="34" width="8" height="8" fill="#ffffff" shape-rendering="crispEdges"/>
<text class="w" transform="translate(481.5,42.0) scale(0.887,1)" style="font-size:12.4px">Wind*</text>
<rect x="562" y="33" width="10" height="10" fill="#fff" shape-rendering="crispEdges"/>
<rect x="563" y="34" width="8" height="8" fill="#0000ff" shape-rendering="crispEdges"/>
<text class="w" transform="translate(576.5,42.0) scale(0.887,1)" style="font-size:12.4px">Windböen</text>
<rect x="657" y="33" width="10" height="10" fill="#fff" shape-rendering="crispEdges"/>
<rect x="658" y="34" width="8" height="8" fill="#808040" shape-rendering="crispEdges"/>
<text class="c" transform="translate(671.5,42.0) scale(0.887,1)" style="font-size:12.4px">Empfang</text>
<g shape-rendering="crispEdges">
<rect x="0" y="546" width="1024" height="72" fill="#cdfaf6"/>
<rect x="0" y="545" width="1024" height="1" fill="#fff"/>
<rect x="0" y="545" width="1" height="73" fill="#fff"/>
<rect x="1023" y="545" width="1" height="73" fill="#606060"/>
<rect x="88" y="546" width="1" height="72" fill="#606060"/>
<rect x="87" y="546" width="1" height="72" fill="#fff"/>
<rect x="205" y="546" width="1" height="72" fill="#606060"/>
<rect x="204" y="546" width="1" height="72" fill="#fff"/>
<rect x="323" y="546" width="1" height="72" fill="#606060"/>
<rect x="322" y="546" width="1" height="72" fill="#fff"/>
<rect x="441" y="546" width="1" height="72" fill="#606060"/>
<rect x="440" y="546" width="1" height="72" fill="#fff"/>
<rect x="559" y="546" width="1" height="72" fill="#606060"/>
<rect x="558" y="546" width="1" height="72" fill="#fff"/>
<rect x="677" y="546" width="1" height="72" fill="#606060"/>
<rect x="676" y="546" width="1" height="72" fill="#fff"/>
<rect x="795" y="546" width="1" height="72" fill="#606060"/>
<rect x="794" y="546" width="1" height="72" fill="#fff"/>
<rect x="913" y="546" width="1" height="72" fill="#606060"/>
<rect x="912" y="546" width="1" height="72" fill="#fff"/>
</g>
<text class="k b" transform="translate(8.5,564.0) scale(0.887,1)" style="font-size:12.4px">Sensor</text>
<text class="k b" transform="translate(8.5,580.0) scale(0.887,1)" style="font-size:12.4px">MinWert</text>
<text class="k b" transform="translate(8.5,596.0) scale(0.887,1)" style="font-size:12.4px">MaxWert</text>
<text class="k b" transform="translate(8.5,612.0) scale(0.887,1)" style="font-size:12.4px">Durchschnitt</text>
<text class="k b" transform="translate(95.5,564.0) scale(0.887,1)" style="font-size:12.4px">Temp. A.</text>
<text class="k b e" transform="translate(198.0,564.0) scale(0.887,1)" style="font-size:12.4px">°C</text>
<text class="k" transform="translate(101.0,580.0) scale(0.887,1)" style="font-size:12.4px">06:00</text>
<text class="k e" transform="translate(198.0,580.0) scale(0.887,1)" style="font-size:12.4px">3.6</text>
<text class="k" transform="translate(101.0,596.0) scale(0.887,1)" style="font-size:12.4px">14:40</text>
<text class="k e" transform="translate(198.0,596.0) scale(0.887,1)" style="font-size:12.4px">17.7</text>
<text class="k e" transform="translate(198.0,612.0) scale(0.887,1)" style="font-size:12.4px">9.83</text>
<text class="k b" transform="translate(212.5,564.0) scale(0.887,1)" style="font-size:12.4px">Temp. I.</text>
<text class="k b e" transform="translate(316.0,564.0) scale(0.887,1)" style="font-size:12.4px">°C</text>
<text class="k" transform="translate(218.0,580.0) scale(0.887,1)" style="font-size:12.4px">14:15</text>
<text class="k e" transform="translate(316.0,580.0) scale(0.887,1)" style="font-size:12.4px">24.3</text>
<text class="k" transform="translate(218.0,596.0) scale(0.887,1)" style="font-size:12.4px">09:10</text>
<text class="k e" transform="translate(316.0,596.0) scale(0.887,1)" style="font-size:12.4px">27.4</text>
<text class="k e" transform="translate(316.0,612.0) scale(0.887,1)" style="font-size:12.4px">26.26</text>
<text class="k b" transform="translate(684.5,564.0) scale(0.887,1)" style="font-size:12.4px">Luftdruck</text>
<text class="k b e" transform="translate(788.0,564.0) scale(0.887,1)" style="font-size:12.4px">hPa</text>
<text class="k" transform="translate(690.0,580.0) scale(0.887,1)" style="font-size:12.4px">15:35</text>
<text class="k e" transform="translate(788.0,580.0) scale(0.887,1)" style="font-size:12.4px">1030.4</text>
<text class="k" transform="translate(690.0,596.0) scale(0.887,1)" style="font-size:12.4px">00:05</text>
<text class="k e" transform="translate(788.0,596.0) scale(0.887,1)" style="font-size:12.4px">1035.1</text>
<text class="k" transform="translate(684.5,612.0) scale(0.887,1)" style="font-size:12.4px">^1.0hPa/h</text>
<text class="k e" transform="translate(788.0,612.0) scale(0.887,1)" style="font-size:12.4px">1032.4</text>
<text class="k b" transform="translate(802.5,564.0) scale(0.887,1)" style="font-size:12.4px">Regen</text>
<text class="k b e" transform="translate(906.0,564.0) scale(0.887,1)" style="font-size:12.4px">l/m²</text>
<text class="k" transform="translate(808.0,596.0) scale(0.887,1)" style="font-size:12.4px">00:00</text>
<text class="k e" transform="translate(906.0,596.0) scale(0.887,1)" style="font-size:12.4px">0.0</text>
<text class="k" transform="translate(802.5,612.0) scale(0.887,1)" style="font-size:12.4px">Gesamt:</text>
<text class="k e" transform="translate(906.0,612.0) scale(0.887,1)" style="font-size:12.4px">0.0</text>
<text class="k b" transform="translate(920.5,564.0) scale(0.887,1)" style="font-size:12.4px">Wind</text>
<text class="k b e" transform="translate(1022.5,564.0) scale(0.887,1)" style="font-size:12.4px">km/h</text>
<text class="k" transform="translate(920.5,580.0) scale(0.887,1)" style="font-size:12.4px">Ø 10 min.</text>
<text class="k e" transform="translate(1022.5,580.0) scale(0.887,1)" style="font-size:12.4px">0.0</text>
<text class="k" transform="translate(926.0,596.0) scale(0.887,1)" style="font-size:12.4px">18:35</text>
<text class="k e" transform="translate(1022.5,596.0) scale(0.887,1)" style="font-size:12.4px">N 2.5</text>
<text class="k e" transform="translate(1022.5,612.0) scale(0.887,1)" style="font-size:12.4px">0.0</text>
</svg></body></html>
